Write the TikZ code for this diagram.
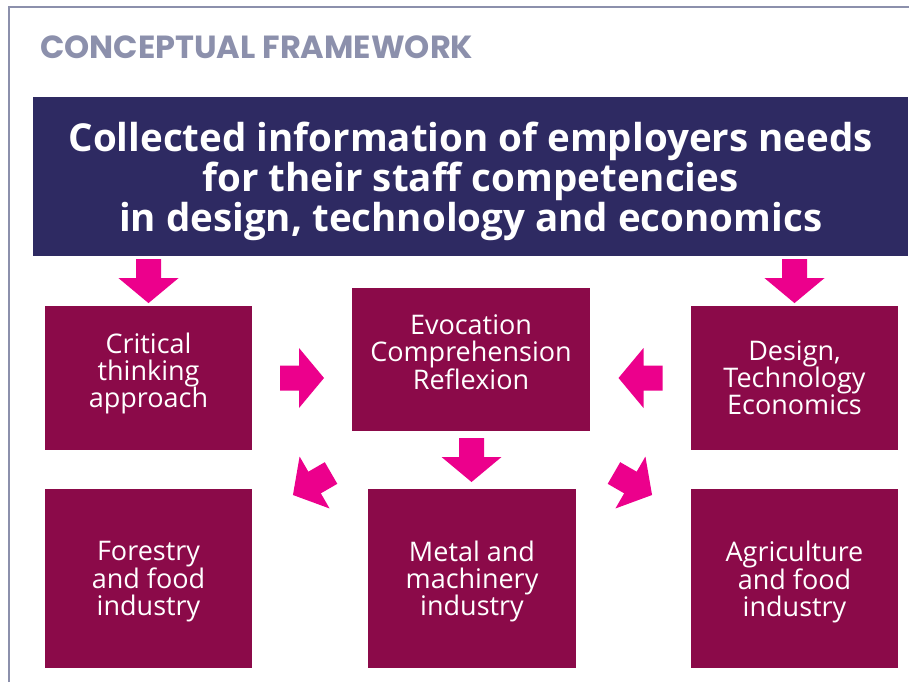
\documentclass[tikz,border=0pt]{standalone}
\usepackage{fontspec}
\setmainfont{Open Sans}[Ligatures=NoCommon]
\newfontfamily\headfont{Poppins}
\usetikzlibrary{calc}
\definecolor{navyblue}{RGB}{46,42,98}
\definecolor{wineberry}{RGB}{139,10,73}
\definecolor{hotpink}{RGB}{236,0,140}
\definecolor{slategray}{RGB}{140,144,172}

% block arrow: #1 = centre, #2 = direction (degrees)
\newcommand{\blockarrow}[2]{%
	\fill[hotpink, shift={#1}, rotate=#2] (-22,-12.5) -- (-3,-12.5) -- (-3,-30) -- (22,0) -- (-3,30) -- (-3,12.5) -- (-22,12.5) -- cycle;}

\begin{document}
\begin{tikzpicture}[x=1pt, y=-1pt]
		\tikzstyle{every node}=[inner sep=0pt]
		\tikzstyle{box}=[fill=wineberry, text=white, align=center, font=\fontsize{27}{27}\selectfont]
		\useasboundingbox (0,0) rectangle (909,682);
		
		% frame and heading
		\draw[slategray, line width=2pt] (9,682) -- (9,7) -- (909,7);
		\node[anchor=base west, text=slategray, font=\headfont\bfseries\fontsize{32}{32}\selectfont] (title) at (40,59) {CONCEPTUAL FRAMEWORK};
		
		% employers needs
		\node[fill=navyblue, text=white, align=center, anchor=north west, minimum width=875, minimum height=159, text depth=0pt, font=\bfseries\fontsize{38.5}{40}\selectfont] (needs) at (33,97) {Collected information of employers needs\\for their staff competencies\\in design, technology and economics};
		
		% upper row
		\node[box, minimum width=207, minimum height=144, text depth=16pt] (critical) at (148.5,378) {Critical\\thinking\\approach};
		\node[box, minimum width=238, minimum height=143, text depth=15pt] (evocation) at (471,359.5) {Evocation\\Comprehension\\Reflexion};
		\node[box, minimum width=207, minimum height=144] (design) at (794.5,378) {Design,\\Technology\\Economics};
		
		% lower row
		\node[box, minimum width=207, minimum height=179, text depth=0pt] (forestry) at (148.5,578.5) {Forestry\\and food\\industry};
		\node[box, minimum width=208, minimum height=179, text depth=0pt] (metal) at (472,578.5) {Metal and\\machinery\\industry};
		\node[box, minimum width=207, minimum height=179, text depth=0pt] (agri) at (794.5,578.5) {Agriculture\\and food\\industry};
		
		% arrows
		\blockarrow{($(needs.south -| critical.north)!0.5!(critical.north)$)}{-90}
		\blockarrow{($(needs.south -| design.north)!0.5!(design.north)$)}{-90}
		\blockarrow{($(critical.east)!0.5!(evocation.west |- critical.east)$)}{0}
		\blockarrow{($(design.west)!0.5!(evocation.east |- design.west)$)}{180}
		\blockarrow{($(evocation.south)!0.5!(metal.north)$)}{-90}
		\blockarrow{(312,484)}{210}
		\blockarrow{(633,484)}{-30}
		
	\end{tikzpicture}
\end{document}
